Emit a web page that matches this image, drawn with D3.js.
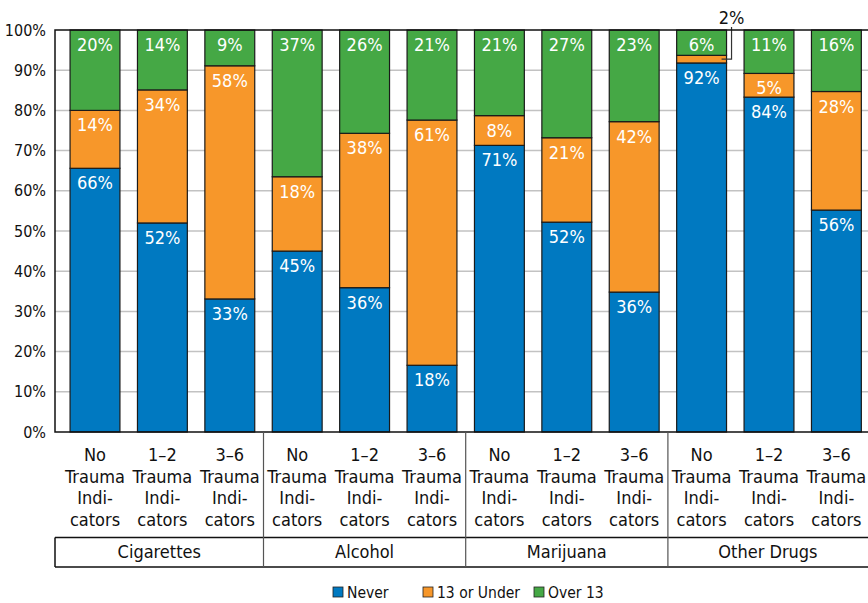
<!DOCTYPE html>
<html>
<head>
<meta charset="utf-8">
<script src="https://cdn.jsdelivr.net/npm/d3@7"></script>
<style>
  body { margin: 0; background: #fff; }
  text { font-family: "Liberation Sans Narrow", "DejaVu Sans Condensed", "Roboto", sans-serif; }
</style>
</head>
<body>
<div id="container"></div>
<script>
/* CONSTANTS AND GLOBALS */
const width = 868,
  height = 603,
  margin = { top: 30, bottom: 171, left: 55, right: 0 };

/* DATA */
const groups = ["Cigarettes", "Alcohol", "Marijuana", "Other Drugs"];
const levels = ["No", "1\u20132", "3\u20136"];
// segment heights as drawn (percent)
const never = [65.6, 52.0, 33.1, 45.0, 35.9, 16.6, 71.3, 52.2, 34.8, 91.8, 83.3, 55.2];
const underThirteen = [14.4, 33.1, 58.0, 18.5, 38.4, 61.0, 7.4, 21.0, 42.4, 1.9, 5.9, 29.5];
const overThirteen = [20.0, 14.9, 8.9, 36.5, 25.7, 22.4, 21.3, 26.8, 22.8, 6.3, 10.8, 15.3];
// printed labels
const neverLabels = [66, 52, 33, 45, 36, 18, 71, 52, 36, 92, 84, 56];
const underLabels = [14, 34, 58, 18, 38, 61, 8, 21, 42, 2, 5, 28];
const overLabels = [20, 14, 9, 37, 26, 21, 21, 27, 23, 6, 11, 16];
const seriesNames = ["Never", "13 or Under", "Over 13"];
const yTicks = [0, 0.1, 0.2, 0.3, 0.4, 0.5, 0.6, 0.7, 0.8, 0.9, 1];

const colors = { "Never": "#0079c1", "13 or Under": "#f7972a", "Over 13": "#45a845" };
const labelsFor = { "Never": neverLabels, "13 or Under": underLabels, "Over 13": overLabels };

const rows = never.map((v, i) => ({
  id: i,
  group: groups[Math.floor(i / 3)],
  level: levels[i % 3],
  "Never": v,
  "13 or Under": underThirteen[i],
  "Over 13": overThirteen[i]
}));

const svg = d3.select("#container")
  .append("svg")
  .attr("width", width)
  .attr("height", height);

const x = d3.scaleBand()
  .domain(rows.map(d => d.id))
  .range([61.3, 61.3 + 12 * 67.4])
  .paddingInner(0.26)
  .paddingOuter(0.13);

const y = d3.scaleLinear()
  .domain([0, 1])
  .range([height - margin.bottom, margin.top]);

const stack = d3.stack()
  .keys(seriesNames)
  .offset(d3.stackOffsetExpand);
const stacked = stack(rows);

// gridlines
svg.append("g")
  .selectAll("line")
  .data(yTicks.slice(1, -1))
  .join("line")
  .attr("x1", margin.left)
  .attr("x2", width)
  .attr("y1", d => y(d))
  .attr("y2", d => y(d))
  .attr("stroke", "#c2c2c2")
  .attr("stroke-width", 1.5);

// y axis
const yAxis = svg.append("g")
  .attr("transform", `translate(${margin.left},0)`)
  .call(d3.axisLeft(y).tickValues(yTicks).tickFormat(d3.format(".0%")).tickSize(0).tickPadding(9));
yAxis.select(".domain").remove();
yAxis.selectAll("text").attr("font-size", 16).attr("fill", "#111");

// bars
const layers = svg.append("g")
  .selectAll("g")
  .data(stacked)
  .join("g")
  .attr("fill", d => colors[d.key]);

layers.selectAll("rect")
  .data(d => d)
  .join("rect")
  .attr("x", d => x(d.data.id))
  .attr("width", x.bandwidth())
  .attr("y", d => y(d[1]))
  .attr("height", d => y(d[0]) - y(d[1]))
  .attr("stroke", "#1a1a1a")
  .attr("stroke-width", 1.2);

// value labels
stacked.forEach(layer => {
  const labs = labelsFor[layer.key];
  svg.append("g")
    .selectAll("text")
    .data(layer.filter((d, i) => labs[d.data.id] >= 5))
    .join("text")
    .attr("x", d => x(d.data.id) + x.bandwidth() / 2)
    .attr("y", d => y(d[1]) + 21)
    .attr("text-anchor", "middle")
    .attr("font-size", 18)
    .attr("fill", "#fff")
    .text(d => labs[d.data.id] + "%");
});

// callout for small segment
const small = stacked[1].filter(d => underLabels[d.data.id] < 5);
small.forEach(d => {
  const right = x(d.data.id) + x.bandwidth();
  const my = (y(d[0]) + y(d[1])) / 2;
  svg.append("path")
    .attr("d", `M${right - 5},${my} H${right + 5} V${margin.top - 3}`)
    .attr("fill", "none")
    .attr("stroke", "#333")
    .attr("stroke-width", 1.2);
  svg.append("text")
    .attr("x", right + 5)
    .attr("y", 24)
    .attr("text-anchor", "middle")
    .attr("font-size", 18)
    .attr("fill", "#111")
    .text(underLabels[d.data.id] + "%");
});

// plot frame
const bottom = y(0);
svg.append("path")
  .attr("d", `M${width},${margin.top} H${margin.left} V${bottom} H${width}`)
  .attr("fill", "none")
  .attr("stroke", "#111")
  .attr("stroke-width", 1.5);

// x labels
const labelLines = d => [d.level, "Trauma", "Indi-", "cators"];
svg.append("g")
  .selectAll("text")
  .data(rows)
  .join("text")
  .attr("text-anchor", "middle")
  .attr("font-size", 18)
  .attr("fill", "#111")
  .selectAll("tspan")
  .data(d => labelLines(d).map(t => ({ t, cx: x(d.id) + x.bandwidth() / 2 })))
  .join("tspan")
  .attr("x", d => d.cx)
  .attr("y", (d, i) => 461 + i * 21.5)
  .text(d => d.t);

// group boxes
const boxTop = 537.5, boxBottom = 567;
const groupEdges = groups.map((g, i) => {
  const first = x(i * 3), last = x(i * 3 + 2);
  const gap = x.step() - x.bandwidth();
  const left = i === 0 ? margin.left : first - gap / 2;
  const right = i === groups.length - 1 ? width : last + x.bandwidth() + gap / 2;
  return { g, left, right };
});

svg.append("path")
  .attr("d", `M${margin.left},${boxTop} H${width} M${margin.left},${boxBottom} H${width} M${margin.left},${boxTop} V${boxBottom}`)
  .attr("stroke", "#111")
  .attr("stroke-width", 1.5);

svg.append("g")
  .selectAll("line")
  .data(groupEdges.slice(1))
  .join("line")
  .attr("x1", d => d.left)
  .attr("x2", d => d.left)
  .attr("y1", bottom)
  .attr("y2", boxBottom)
  .attr("stroke", "#555")
  .attr("stroke-width", 1.2);

svg.append("g")
  .selectAll("text")
  .data(groupEdges)
  .join("text")
  .attr("x", d => (d.left + d.right) / 2)
  .attr("y", 558)
  .attr("text-anchor", "middle")
  .attr("font-size", 18)
  .attr("fill", "#111")
  .text(d => d.g);

// legend
const legendX = [333, 423, 534];
const legend = svg.append("g")
  .selectAll("g")
  .data(seriesNames)
  .join("g")
  .attr("transform", (d, i) => `translate(${legendX[i]},587)`);
legend.append("rect")
  .attr("width", 10)
  .attr("height", 10)
  .attr("fill", d => colors[d])
  .attr("stroke", "#222")
  .attr("stroke-width", 0.8);
legend.append("text")
  .attr("x", 14)
  .attr("y", 10.5)
  .attr("font-size", 15.5)
  .attr("fill", "#111")
  .text(d => d);
</script>
</body>
</html>
